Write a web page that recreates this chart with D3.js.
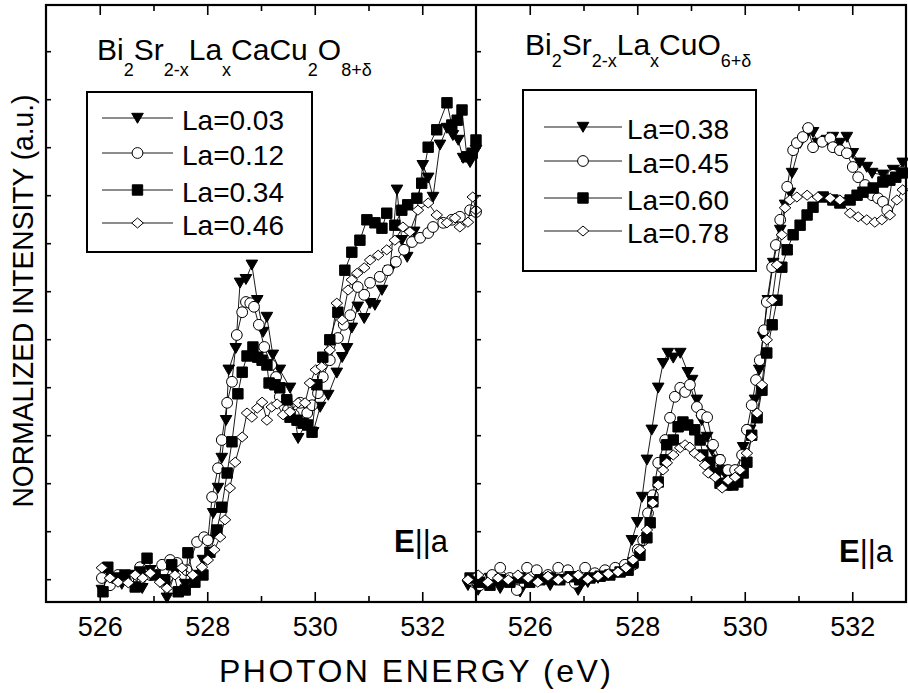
<!DOCTYPE html>
<html>
<head>
<meta charset="utf-8">
<script src="https://cdn.jsdelivr.net/npm/d3@7"></script>
<style>
  body { margin: 0; background: #fff; }
  svg text { font-family: 'Liberation Sans', Arial, Helvetica, sans-serif; fill: #000; }
</style>
</head>
<body>
<div id="chart"></div>
<script>
// ── Data: [photon energy (eV), normalized intensity (a.u.)] ────────────────
// Bi2Sr2-xLaxCaCu2O8+d  (left panel)
const bscco2212_La003 = [
  [526.04,2.0],[526.23,4.0],[526.41,3.0],[526.60,4.5],[526.79,2.3],[526.94,5.3],[527.12,3.3],
  [527.25,0.7],[527.40,5.0],[527.59,3.0],[527.77,4.5],[527.92,7.0],[528.05,10.3],[528.11,14.8],
  [528.20,19.0],[528.27,24.0],[528.35,30.3],[528.40,38.7],[528.53,42.3],[528.61,53.2],[528.72,53.8],
  [528.83,56.2],[528.93,50.3],[529.04,45.0],[529.11,47.5],[529.22,41.2],[529.35,38.7],[529.54,35.7],
  [529.69,27.3],[529.82,29.5],[529.97,28.3],[530.10,32.5],[530.25,34.5],[530.41,38.2],[530.51,40.8],
  [530.60,42.3],[530.69,45.7],[530.80,49.2],[530.92,47.3],[531.03,49.8],[531.12,49.5],[531.25,52.0],
  [531.40,55.3],[531.53,68.7],[531.62,60.3],[531.72,57.5],[531.85,61.7],[532.01,72.8],[532.11,70.7],
  [532.20,67.5],[532.33,76.2],[532.46,79.0],[532.57,77.8],[532.67,77.0],[532.76,74.0],[532.89,73.3],
  [533.00,75.3]
];
const bscco2212_La012 = [
  [526.04,4.0],[526.19,2.8],[526.34,4.5],[526.53,3.7],[526.75,5.8],[526.94,4.5],[527.16,6.2],
  [527.31,7.0],[527.44,6.5],[527.62,5.3],[527.81,10.0],[527.94,10.8],[528.01,10.3],[528.09,17.5],
  [528.20,22.3],[528.27,27.0],[528.37,33.2],[528.46,36.7],[528.55,44.5],[528.65,48.3],[528.72,50.0],
  [528.80,49.8],[528.87,49.2],[528.96,46.2],[529.06,42.5],[529.19,39.5],[529.28,37.5],[529.35,34.2],
  [529.50,32.0],[529.61,31.2],[529.73,33.2],[529.86,31.5],[529.95,32.8],[530.06,34.8],[530.15,37.5],
  [530.28,40.3],[530.43,44.0],[530.54,46.2],[530.66,47.8],[530.80,52.5],[530.92,51.2],[531.03,53.2],
  [531.21,54.2],[531.36,55.3],[531.51,56.7],[531.66,58.7],[531.81,60.0],[531.96,60.7],[532.11,61.5],
  [532.20,62.5],[532.39,63.2],[532.55,63.7],[532.70,64.2],[532.89,65.3],[533.00,65.0]
];
const bscco2212_La034 = [
  [526.06,1.7],[526.15,5.8],[526.32,4.0],[526.47,4.5],[526.66,2.5],[526.75,5.0],[526.88,7.3],
  [527.03,4.5],[527.21,3.7],[527.34,6.2],[527.46,1.7],[527.59,2.0],[527.64,8.2],[527.77,3.3],
  [527.92,4.5],[528.05,8.3],[528.18,12.0],[528.27,15.8],[528.37,21.5],[528.46,26.7],[528.57,34.7],
  [528.65,38.3],[528.74,41.0],[528.85,42.5],[528.94,40.8],[529.02,40.3],[529.11,39.5],[529.15,36.5],
  [529.26,36.2],[529.35,35.7],[529.48,33.7],[529.54,30.8],[529.67,30.3],[529.78,29.8],[529.87,29.5],
  [529.95,28.3],[530.04,36.2],[530.15,40.8],[530.28,43.7],[530.43,48.3],[530.56,55.3],[530.69,58.3],
  [530.84,60.3],[530.97,63.7],[531.12,63.2],[531.25,62.3],[531.34,64.8],[531.49,62.8],[531.62,65.3],
  [531.73,66.2],[531.90,67.3],[531.99,69.8],[532.11,75.8],[532.27,78.7],[532.46,83.2],[532.55,79.5],
  [532.65,80.3],[532.74,82.0],[532.83,74.2],[532.93,74.8],[533.00,77.0]
];
const bscco2212_La046 = [
  [526.04,5.7],[526.19,4.0],[526.34,3.3],[526.53,3.2],[526.66,4.5],[526.80,4.0],[526.94,4.8],
  [527.12,3.3],[527.25,2.3],[527.40,4.5],[527.53,5.7],[527.73,4.5],[527.90,5.8],[528.01,7.0],
  [528.13,8.7],[528.24,10.8],[528.33,13.7],[528.42,19.0],[528.52,23.3],[528.65,27.5],[528.74,31.5],
  [528.83,30.8],[528.93,32.3],[529.02,33.3],[529.11,30.3],[529.20,32.5],[529.30,33.0],[529.41,31.2],
  [529.54,31.7],[529.69,33.2],[529.82,33.2],[529.91,36.5],[530.02,38.7],[530.13,39.2],[530.28,42.0],
  [530.41,49.8],[530.51,47.0],[530.62,52.0],[530.69,53.7],[530.79,54.8],[530.92,55.7],[531.03,57.0],
  [531.18,57.8],[531.34,58.7],[531.49,60.3],[531.64,62.5],[531.77,61.7],[531.92,65.3],[532.11,66.5],
  [532.27,64.5],[532.46,63.2],[532.61,64.0],[532.70,62.5],[532.85,63.3],[532.94,67.5],[533.00,65.3]
];

// Bi2Sr2-xLaxCuO6+d  (right panel)
const bscco2201_La038 = [
  [524.85,2.8],[525.04,2.0],[525.26,4.0],[525.45,2.3],[525.63,3.7],[525.82,1.7],[526.00,3.3],
  [526.19,4.0],[526.38,2.8],[526.56,3.7],[526.75,4.3],[526.90,2.0],[527.08,3.3],[527.27,4.0],
  [527.46,4.5],[527.64,5.0],[527.77,5.3],[527.90,10.3],[528.00,13.3],[528.09,17.5],[528.18,23.7],
  [528.27,28.7],[528.39,35.7],[528.48,39.8],[528.57,41.5],[528.67,40.7],[528.80,41.5],[528.94,38.3],
  [529.02,37.0],[529.11,33.7],[529.20,30.3],[529.30,27.5],[529.39,25.3],[529.50,23.7],[529.58,22.0],
  [529.67,20.8],[529.76,20.7],[529.86,21.5],[529.97,25.8],[530.10,28.7],[530.19,33.7],[530.27,38.7],
  [530.34,44.2],[530.43,50.3],[530.53,56.5],[530.66,62.0],[530.75,66.2],[530.84,68.2],[530.88,71.5],
  [531.03,76.5],[531.18,78.3],[531.27,78.3],[531.36,76.5],[531.53,77.0],[531.64,77.5],[531.77,76.5],
  [531.90,77.5],[532.01,74.8],[532.14,73.2],[532.27,72.5],[532.37,71.5],[532.57,71.2],[532.76,72.0],
  [532.94,73.2]
];
const bscco2201_La045 = [
  [524.89,3.7],[525.07,2.8],[525.30,4.5],[525.45,5.7],[525.63,4.0],[525.76,2.0],[525.95,5.7],
  [526.13,5.3],[526.34,4.5],[526.53,5.7],[526.71,5.3],[526.84,3.2],[527.03,5.7],[527.21,4.8],
  [527.40,5.3],[527.59,5.7],[527.77,6.2],[527.92,6.2],[528.01,8.7],[528.11,10.3],[528.20,14.8],
  [528.29,17.8],[528.39,23.2],[528.52,27.0],[528.61,30.7],[528.70,34.2],[528.80,35.7],[528.89,35.0],
  [528.98,36.2],[529.11,32.5],[529.20,31.2],[529.30,30.8],[529.41,26.2],[529.54,23.7],[529.69,22.0],
  [529.82,22.0],[529.95,24.5],[530.04,28.7],[530.13,32.8],[530.21,37.0],[530.28,40.3],[530.36,45.3],
  [530.41,50.0],[530.51,55.8],[530.58,59.5],[530.66,63.7],[530.79,69.2],[530.90,75.3],[530.97,76.5],
  [531.08,77.5],[531.18,79.0],[531.27,75.8],[531.44,76.7],[531.59,77.3],[531.64,75.8],[531.77,75.3],
  [531.90,74.8],[532.01,72.5],[532.11,70.8],[532.24,69.5],[532.37,67.8],[532.48,67.3],[532.57,66.7],
  [532.65,65.3],[532.76,71.2],[532.93,71.7]
];
const bscco2201_La060 = [
  [524.89,4.0],[525.07,3.3],[525.26,2.8],[525.45,3.7],[525.63,3.3],[525.82,4.0],[526.00,3.3],
  [526.19,3.7],[526.38,4.0],[526.56,3.7],[526.75,4.2],[526.93,3.7],[527.12,4.0],[527.31,4.3],
  [527.49,4.5],[527.68,5.0],[527.83,5.3],[527.92,6.5],[528.05,7.8],[528.18,10.7],[528.24,13.2],
  [528.29,16.7],[528.39,20.0],[528.52,23.7],[528.55,26.2],[528.67,27.0],[528.76,29.2],[528.85,30.0],
  [528.94,29.5],[529.07,28.7],[529.17,27.0],[529.22,24.5],[529.35,23.3],[529.45,21.5],[529.54,19.8],
  [529.67,19.5],[529.78,19.5],[529.87,20.0],[529.97,21.5],[530.04,23.3],[530.13,27.8],[530.23,30.7],
  [530.32,35.3],[530.41,41.5],[530.51,46.2],[530.60,50.3],[530.69,55.8],[530.79,58.7],[530.90,61.2],
  [531.03,62.8],[531.16,64.5],[531.27,65.8],[531.46,67.5],[531.64,67.0],[531.77,66.5],[531.96,67.0],
  [532.09,67.8],[532.20,68.3],[532.39,69.0],[532.57,70.0],[532.70,70.3],[532.81,70.8],[532.93,71.5]
];
const bscco2201_La078 = [
  [524.85,3.7],[525.04,4.5],[525.22,3.3],[525.41,4.0],[525.60,3.7],[525.78,4.5],[525.97,4.0],
  [526.15,3.3],[526.34,4.3],[526.53,3.7],[526.71,4.0],[526.90,4.5],[527.08,3.8],[527.27,4.3],
  [527.46,4.7],[527.64,5.0],[527.79,5.7],[527.92,7.0],[528.05,8.7],[528.18,12.0],[528.29,16.5],
  [528.39,19.5],[528.48,22.0],[528.55,23.2],[528.67,24.5],[528.80,25.7],[528.89,26.2],[528.98,25.8],
  [529.07,24.8],[529.17,24.2],[529.26,22.8],[529.32,21.5],[529.45,20.8],[529.58,19.0],[529.69,20.3],
  [529.82,20.8],[529.91,22.0],[530.04,24.8],[530.13,27.5],[530.23,31.5],[530.32,36.2],[530.41,43.7],
  [530.51,50.3],[530.60,56.2],[530.69,61.2],[530.75,65.7],[530.84,67.0],[530.97,67.5],[531.16,67.8],
  [531.36,67.5],[531.59,67.3],[531.77,67.0],[531.96,64.8],[532.11,64.2],[532.27,63.7],[532.42,63.3],
  [532.55,63.7],[532.70,64.5],[532.83,67.0],[532.94,68.7]
];

const LEFT_LABELS  = ['La=0.03', 'La=0.12', 'La=0.34', 'La=0.46'];
const RIGHT_LABELS = ['La=0.38', 'La=0.45', 'La=0.60', 'La=0.78'];
const SHAPES = ['tri', 'circle', 'square', 'diamond'];

const ENERGY_DOMAIN = [525, 533];
const MAJOR_TICKS = [526, 528, 530, 532];
const MINOR_TICKS = [527, 529, 531];
const INTENSITY_DOMAIN = [0, 99.5];
const INTENSITY_TICKS = [3.8, 11.8, 19.8, 27.8, 35.8, 43.8, 51.8, 59.8, 67.8, 75.8, 83.8, 91.8];

// chemical formulae as [text, isSubscript]
const LEFT_FORMULA  = [['Bi',0],['2',1],['Sr',0],['2-x',1],['La',0],['x',1],['CaCu',0],['2',1],['O',0],['8+δ',1]];
const RIGHT_FORMULA = [['Bi',0],['2',1],['Sr',0],['2-x',1],['La',0],['x',1],['CuO',0],['6+δ',1]];

// ── Layout ─────────────────────────────────────────────────────────────────
const W = 908, H = 693;
const TOP = 5, BOTTOM = 602;
const FONT = 27;

const svg = d3.select('#chart').append('svg')
  .attr('width', W).attr('height', H)
  .attr('viewBox', `0 0 ${W} ${H}`);

const y = d3.scaleLinear().domain(INTENSITY_DOMAIN).range([BOTTOM, TOP]);

const MARKERS = {
  tri:     { d: 'M-5.8,-4.7L5.8,-4.7L0,5.3Z', fill: '#000' },
  circle:  { d: d3.symbol(d3.symbolCircle, Math.PI * 5.4 * 5.4)(), fill: '#fff' },
  square:  { d: 'M-5.2,-5.2H5.2V5.2H-5.2Z', fill: '#000' },
  diamond: { d: 'M-5.8,0L0,-5L5.8,0L0,5Z', fill: '#fff' }
};

const panels = [
  {
    left: 46, right: 476,
    series: [bscco2212_La003, bscco2212_La012, bscco2212_La034, bscco2212_La046],
    labels: LEFT_LABELS, formula: LEFT_FORMULA,
    formulaX: 97, formulaY: 60, subDy: 16,
    box: { x: 87, y: 92, w: 225, h: 160 }, rows: [118, 153, 190, 223],
    lineX: [102, 173], textX: 182,
    eX: 394, eY: 552
  },
  {
    left: 476, right: 906,
    series: [bscco2201_La038, bscco2201_La045, bscco2201_La060, bscco2201_La078],
    labels: RIGHT_LABELS, formula: RIGHT_FORMULA,
    formulaX: 525, formulaY: 55, subDy: 12,
    box: { x: 523, y: 90, w: 233, h: 181 }, rows: [127, 161, 198, 231],
    lineX: [544, 622], textX: 627,
    eX: 839, eY: 562
  }
];

panels.forEach(p => {
  const x = d3.scaleLinear().domain(ENERGY_DOMAIN).range([p.left, p.right]);
  const g = svg.append('g');

  // ── Series ───────────────────────────────────────────────────────────────
  const line = d3.line().x(d => x(d[0])).y(d => y(d[1]));
  p.series.forEach((data, i) => {
    const m = MARKERS[SHAPES[i]];
    g.append('path')
      .datum(data)
      .attr('d', line)
      .attr('fill', 'none')
      .attr('stroke', '#000')
      .attr('stroke-width', 0.9);
    g.selectAll(null)
      .data(data).enter()
      .append('path')
      .attr('transform', d => `translate(${x(d[0])},${y(d[1])})`)
      .attr('d', m.d)
      .attr('fill', m.fill)
      .attr('stroke', '#000')
      .attr('stroke-width', 1);
  });

  // ── Axes (ticks point inward, only bottom labelled) ──────────────────────
  const bottom = svg.append('g').attr('transform', `translate(0,${BOTTOM})`)
    .call(d3.axisBottom(x).tickValues(MAJOR_TICKS).tickFormat(d3.format('d'))
      .tickSizeInner(-10).tickSizeOuter(0).tickPadding(15));
  bottom.selectAll('text').attr('font-size', FONT + 'px').attr('font-family', null);

  svg.append('g').attr('transform', `translate(0,${BOTTOM})`)
    .call(d3.axisBottom(x).tickValues(MINOR_TICKS).tickFormat('')
      .tickSizeInner(-6).tickSizeOuter(0));

  svg.append('g').attr('transform', `translate(0,${TOP})`)
    .call(d3.axisTop(x).tickValues(MAJOR_TICKS).tickFormat('')
      .tickSizeInner(-10).tickSizeOuter(0));
  svg.append('g').attr('transform', `translate(0,${TOP})`)
    .call(d3.axisTop(x).tickValues(MINOR_TICKS).tickFormat('')
      .tickSizeInner(-6).tickSizeOuter(0));

  svg.append('g').attr('transform', `translate(${p.left},0)`)
    .call(d3.axisLeft(y).tickValues(INTENSITY_TICKS).tickFormat('')
      .tickSizeInner(-5).tickSizeOuter(0));

  // ── Formula title ────────────────────────────────────────────────────────
  const title = svg.append('text')
    .attr('x', p.formulaX).attr('y', p.formulaY)
    .attr('font-size', '30px');
  let lowered = false;
  p.formula.forEach(([txt, sub]) => {
    const ts = title.append('tspan').text(txt);
    if (sub && !lowered) { ts.attr('dy', p.subDy).attr('font-size', '18px'); lowered = true; }
    else if (sub) ts.attr('font-size', '18px');
    else if (lowered) { ts.attr('dy', -p.subDy); lowered = false; }
  });

  // ── Legend ───────────────────────────────────────────────────────────────
  svg.append('rect')
    .attr('x', p.box.x).attr('y', p.box.y)
    .attr('width', p.box.w).attr('height', p.box.h)
    .attr('fill', '#fff').attr('stroke', '#000').attr('stroke-width', 2);

  p.labels.forEach((lab, i) => {
    const ry = p.rows[i];
    const m = MARKERS[SHAPES[i]];
    svg.append('line')
      .attr('x1', p.lineX[0]).attr('x2', p.lineX[1])
      .attr('y1', ry).attr('y2', ry)
      .attr('stroke', '#000').attr('stroke-width', 0.9);
    svg.append('path')
      .attr('transform', `translate(${(p.lineX[0] + p.lineX[1]) / 2},${ry})`)
      .attr('d', m.d).attr('fill', m.fill)
      .attr('stroke', '#000').attr('stroke-width', 1);
    svg.append('text')
      .attr('x', p.textX).attr('y', ry + 12)
      .attr('font-size', '28px')
      .text(lab);
  });

  // ── E||a ─────────────────────────────────────────────────────────────────
  const e = svg.append('text').attr('x', p.eX).attr('y', p.eY).attr('font-size', '31px');
  e.append('tspan').attr('font-weight', 'bold').text('E');
  e.append('tspan').text('||a');
});

// ── Frame ──────────────────────────────────────────────────────────────────
svg.selectAll('.domain').remove();
svg.selectAll('.tick line').attr('stroke', '#000').attr('stroke-width', 1.6);
svg.append('rect')
  .attr('x', 46).attr('y', TOP)
  .attr('width', 906 - 46).attr('height', BOTTOM - TOP)
  .attr('fill', 'none').attr('stroke', '#000').attr('stroke-width', 2.2);
svg.append('line')
  .attr('x1', 476).attr('x2', 476).attr('y1', TOP).attr('y2', BOTTOM)
  .attr('stroke', '#000').attr('stroke-width', 2.2);

// ── Axis titles ────────────────────────────────────────────────────────────
svg.append('text')
  .attr('x', 415).attr('y', 682)
  .attr('text-anchor', 'middle')
  .attr('font-size', '32px')
  .attr('textLength', 392).attr('lengthAdjust', 'spacing')
  .text('PHOTON ENERGY (eV)');

svg.append('text')
  .attr('transform', 'translate(33,301) rotate(-90)')
  .attr('text-anchor', 'middle')
  .attr('font-size', '30px')
  .attr('textLength', 413).attr('lengthAdjust', 'spacingAndGlyphs')
  .text('NORMALIZED INTENSITY (a.u.)');
</script>
</body>
</html>
